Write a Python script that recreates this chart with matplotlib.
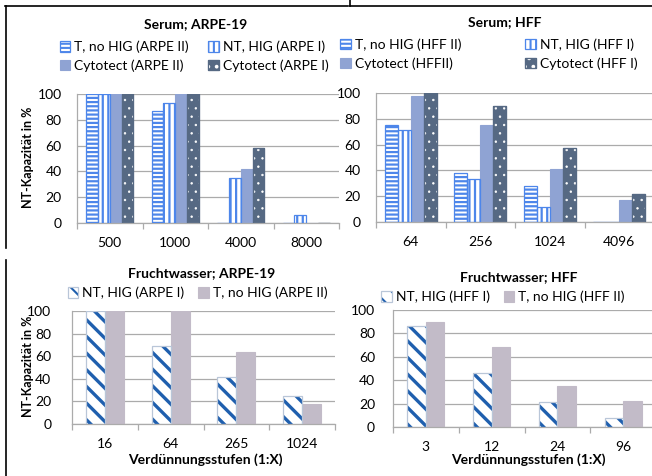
import matplotlib
matplotlib.use("Agg")
import matplotlib.pyplot as plt
import numpy as np
from matplotlib.lines import Line2D
from matplotlib.ticker import FixedLocator

plt.rcParams['font.family'] = ['Lato', 'DejaVu Sans']
plt.rcParams['hatch.linewidth'] = 1.5

W, H = 652, 476

# ---- data -------------------------------------------------------------
serum_arpe_dil = ['500', '1000', '4000', '8000']
serum_arpe_t_nohig = [100, 87, 0, 0]
serum_arpe_nt_hig = [100, 93, 35, 6]
serum_arpe_cyt_ii = [100, 100, 42, 0]
serum_arpe_cyt_i = [100, 100, 58, 0]

serum_hff_dil = ['64', '256', '1024', '4096']
serum_hff_t_nohig = [75, 38, 28, 0]
serum_hff_nt_hig = [71, 33, 12, 0]
serum_hff_cyt_ii = [98, 75, 41, 17]
serum_hff_cyt_i = [100, 90, 57, 22]

fw_arpe_dil = ['16', '64', '265', '1024']
fw_arpe_nt_hig = [100, 69, 42, 25]
fw_arpe_t_nohig = [100, 100, 64, 18]

fw_hff_dil = ['3', '12', '24', '96']
fw_hff_nt_hig = [86, 46, 21, 8]
fw_hff_t_nohig = [90, 68, 35, 22]

# ---- styles -----------------------------------------------------------
STRIPE = '#4d86ea'
CYT_LIGHT = '#8fa3d3'
CYT_DARK = '#566983'
DIAG = '#1f5fae'
GREYBAR = '#c2bbc8'
GRID = '#ababab'
FS = 10


def px(x, y):
    return x / W, 1 - y / H


def make_axes(x0, x1, ytop, ybot):
    left, bottom = x0 / W, 1 - ybot / H
    return fig.add_axes([left, bottom, (x1 - x0) / W, (ybot - ytop) / H])


def style_axes(ax, labels, ypad):
    n = len(labels)
    ax.set_xlim(-0.5, n - 0.5)
    ax.set_ylim(0, 100)
    ax.set_yticks(np.arange(0, 101, 20))
    ax.set_xticks(np.arange(n))
    ax.set_xticklabels(labels)
    ax.xaxis.set_minor_locator(FixedLocator(np.arange(n + 1) - 0.5))
    ax.tick_params(axis='x', which='major', length=0, pad=10, labelsize=FS)
    ax.tick_params(axis='x', which='minor', length=4, color=GRID, width=0.9)
    ax.tick_params(axis='y', length=0, pad=ypad, labelsize=FS)
    ax.grid(axis='y', color=GRID, lw=0.9, zorder=0)
    ax.set_axisbelow(True)
    for s in ('top', 'right'):
        ax.spines[s].set_visible(False)
    for s in ('left', 'bottom'):
        ax.spines[s].set_color(GRID)
        ax.spines[s].set_linewidth(0.9)


def hatched(ax, x, vals, w, hatch, color, face='white', edge=None, hlw=1.5):
    base = ax.bar(x, vals, w, color=face, edgecolor=face, lw=0.8, zorder=2)
    over = ax.bar(x, vals, w, facecolor='none', edgecolor=color, lw=0,
                  hatch=hatch, zorder=3)
    for p in over:
        if hasattr(p, 'set_hatch_linewidth'):
            p.set_hatch_linewidth(hlw)
    outline = ax.bar(x, vals, w, facecolor='none',
                     edgecolor=edge if edge else color, lw=0.9, zorder=4)
    return (base[0], over[0], outline[0])


def four_series(ax, labels, t, nt, c2, c1, w):
    x = np.arange(len(labels))
    h1 = hatched(ax, x - 1.5 * w, t, w, '----', STRIPE, hlw=1.6)
    h2 = hatched(ax, x - 0.5 * w, nt, w, '|||', STRIPE, hlw=1.6)
    b3 = ax.bar(x + 0.5 * w, c2, w, color=CYT_LIGHT, edgecolor=CYT_LIGHT,
                lw=0.8, zorder=2)
    h4 = hatched(ax, x + 1.5 * w, c1, w, '..', 'white', face=CYT_DARK,
                 edge=CYT_DARK, hlw=0.5)
    return h1, h2, b3[0], h4


def two_series(ax, labels, nt, t, w):
    x = np.arange(len(labels))
    h1 = hatched(ax, x - 0.5 * w, nt, w, '\\\\', DIAG, edge='#b9c6d8', hlw=2.4)
    b2 = ax.bar(x + 0.5 * w, t, w, color=GREYBAR, edgecolor=GREYBAR,
                lw=0.8, zorder=2)
    return h1, b2[0]


fig = plt.figure(figsize=(W / 100, H / 100), dpi=100)

# ---- Serum; ARPE-19 ---------------------------------------------------
ax1 = make_axes(77, 339, 94, 223)
style_axes(ax1, serum_arpe_dil, 11)
h = four_series(ax1, serum_arpe_dil, serum_arpe_t_nohig, serum_arpe_nt_hig,
                serum_arpe_cyt_ii, serum_arpe_cyt_i, 0.18)
fig.legend([h[0], h[2], h[1], h[3]],
           ['T, no HIG (ARPE II)', 'Cytotect (ARPE II)',
            'NT, HIG (ARPE I)', 'Cytotect (ARPE I)'],
           ncol=2, loc='center', bbox_to_anchor=px(194, 56.5),
           frameon=False, fontsize=FS, handlelength=0.75, handleheight=0.75,
           handletextpad=0.3, columnspacing=1.4, labelspacing=0.45,
           borderpad=0, borderaxespad=0)

# ---- Serum; HFF -------------------------------------------------------
ax2 = make_axes(376, 654, 93, 222)
style_axes(ax2, serum_hff_dil, 11)
h = four_series(ax2, serum_hff_dil, serum_hff_t_nohig, serum_hff_nt_hig,
                serum_hff_cyt_ii, serum_hff_cyt_i, 0.187)
fig.legend([h[0], h[2], h[1], h[3]],
           ['T, no HIG (HFF II)', 'Cytotect (HFFII)',
            'NT, HIG (HFF I)', 'Cytotect (HFF I)'],
           ncol=2, loc='center', bbox_to_anchor=px(489, 54),
           frameon=False, fontsize=FS, handlelength=0.75, handleheight=0.75,
           handletextpad=0.3, columnspacing=4.6, labelspacing=0.45,
           borderpad=0, borderaxespad=0)

# ---- Fruchtwasser; ARPE-19 --------------------------------------------
ax3 = make_axes(72, 335, 311, 424)
style_axes(ax3, fw_arpe_dil, 15)
h = two_series(ax3, fw_arpe_dil, fw_arpe_nt_hig, fw_arpe_t_nohig, 0.29)
fig.legend(list(h), ['NT, HIG (ARPE I)', 'T, no HIG (ARPE II)'],
           ncol=2, loc='center', bbox_to_anchor=px(197.5, 293),
           frameon=False, fontsize=FS, handlelength=0.75, handleheight=0.75,
           handletextpad=0.3, columnspacing=1.0,
           borderpad=0, borderaxespad=0)

# ---- Fruchtwasser; HFF ------------------------------------------------
ax4 = make_axes(393, 656, 310, 427)
style_axes(ax4, fw_hff_dil, 13)
h = two_series(ax4, fw_hff_dil, fw_hff_nt_hig, fw_hff_t_nohig, 0.28)
fig.legend(list(h), ['NT, HIG (HFF I)', 'T, no HIG (HFF II)'],
           ncol=2, loc='center', bbox_to_anchor=px(503, 297),
           frameon=False, fontsize=FS, handlelength=0.75, handleheight=0.75,
           handletextpad=0.3, columnspacing=1.0,
           borderpad=0, borderaxespad=0)

# ---- titles and axis labels ------------------------------------------
tkw = dict(ha='center', va='center', fontsize=FS, fontweight='bold')
fig.text(*px(195.5, 24), 'Serum; ARPE-19', **tkw)
fig.text(*px(505, 22), 'Serum; HFF', **tkw)
fig.text(*px(202, 273), 'Fruchtwasser; ARPE-19', **tkw)
fig.text(*px(519, 277), 'Fruchtwasser; HFF', **tkw)
fig.text(*px(205, 460), 'Verdünnungsstufen (1:X)', **tkw)
fig.text(*px(528, 460), 'Verdünnungsstufen (1:X)', **tkw)
ykw = dict(ha='center', va='center', rotation=90, fontsize=FS - 1,
           fontweight='bold')
fig.text(*px(28, 157), 'NT-Kapazität in %', **ykw)
fig.text(*px(28, 366), 'NT-Kapazität in %', **ykw)

# ---- frame lines ------------------------------------------------------
lkw = dict(transform=fig.transFigure, color='black', lw=1.2)
fig.add_artist(Line2D([px(5, 0)[0], px(348, 0)[0]], [px(0, 6)[1]] * 2, **lkw))
fig.add_artist(Line2D([px(350, 0)[0], 1.0], [px(0, 6)[1]] * 2, **lkw))
fig.add_artist(Line2D([px(349.5, 0)[0]] * 2, [1.0, px(0, 6)[1]], **lkw))
fig.add_artist(Line2D([px(5.5, 0)[0]] * 2, [px(0, 6)[1], px(0, 248)[1]], **lkw))
fig.add_artist(Line2D([px(5.5, 0)[0]] * 2, [px(0, 260)[1], 0.0], **lkw))

fig.savefig('out.png', dpi=100)
